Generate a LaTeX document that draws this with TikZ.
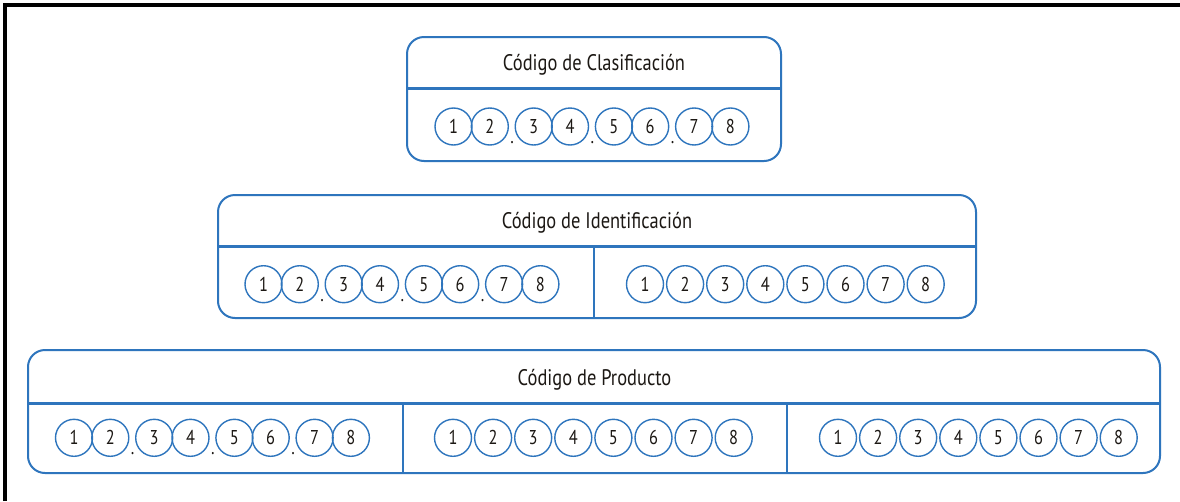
\documentclass[tikz,border=0pt]{standalone}
\usepackage{fontspec}
\setmainfont{PT Sans}[FakeStretch=0.82]
\definecolor{bl}{RGB}{46,117,189}
\definecolor{ink}{RGB}{28,24,20}
\tikzset{
  boxline/.style={draw=bl, line width=2pt, rounded corners=17pt},
  divline/.style={draw=bl, line width=3pt},
  vline/.style={draw=bl, line width=2.5pt},
  dig/.style={circle, draw=bl, line width=1.4pt, minimum size=37pt, inner sep=0pt,
    text=ink, font=\fontsize{20}{20}\selectfont},
  sep/.style={anchor=base, inner sep=0pt, text=ink, font=\fontsize{20}{20}\selectfont},
  title/.style={text=ink, inner sep=0pt, font=\fontsize{22.5}{22.5}\selectfont}
}
\begin{document}
\begin{tikzpicture}[x=1pt,y=-1pt]
\useasboundingbox (0,0) rectangle (1180,501);
\fill[white] (0,0) rectangle (1180,501);
\draw[black, line width=4pt] (5,501) -- (5,5) -- (1180,5);

% Box 1
\draw[boxline] (407,37) rectangle (781,161);
\draw[divline] (407,88) -- (781,88);
\node[title] (t1) at (594,65) {Código de Clasificación};

% Box 2
\draw[boxline] (218,195) rectangle (976,318);
\draw[divline] (218,246) -- (976,246);
\draw[vline] (594,246) -- (594,318);
\node[title] (t2) at (597,223) {Código de Identificación};

% Box 3
\draw[boxline] (28,350) rectangle (1160,473);
\draw[divline] (28,403) -- (1160,403);
\draw[vline] (403,403) -- (403,473);
\draw[vline] (787,403) -- (787,473);
\node[title] (t3) at (594.5,380) {Código de Producto};

% dotted groups
\foreach \nm/\sx/\sy in {a/453.5/126.5, b/263.5/284.2, c/74/437.8}{
  \foreach \k in {0,1,2,3}{
    \pgfmathsetmacro{\xa}{\sx+80.2*\k}
    \pgfmathsetmacro{\xb}{\sx+80.2*\k+36.3}
    \pgfmathtruncatemacro{\na}{2*\k+1}
    \pgfmathtruncatemacro{\nb}{2*\k+2}
    \node[dig] (\nm\na) at (\xa,\sy) {\na};
    \node[dig] (\nm\nb) at (\xb,\sy) {\nb};
  }
  \foreach \k in {0,1,2}{
    \pgfmathsetmacro{\xd}{\sx+80.2*\k+58.7}
    \node[sep] (\nm dot\k) at (\xd,\sy+17) {.};
  }
}

% plain groups
\foreach \nm/\sx/\sy in {d/645/284.2, e/453/437.8, f/838/437.8}{
  \foreach \i in {1,...,8}{
    \pgfmathsetmacro{\xx}{\sx+40.1*(\i-1)}
    \node[dig] (\nm\i) at (\xx,\sy) {\i};
  }
}
\end{tikzpicture}
\end{document}
